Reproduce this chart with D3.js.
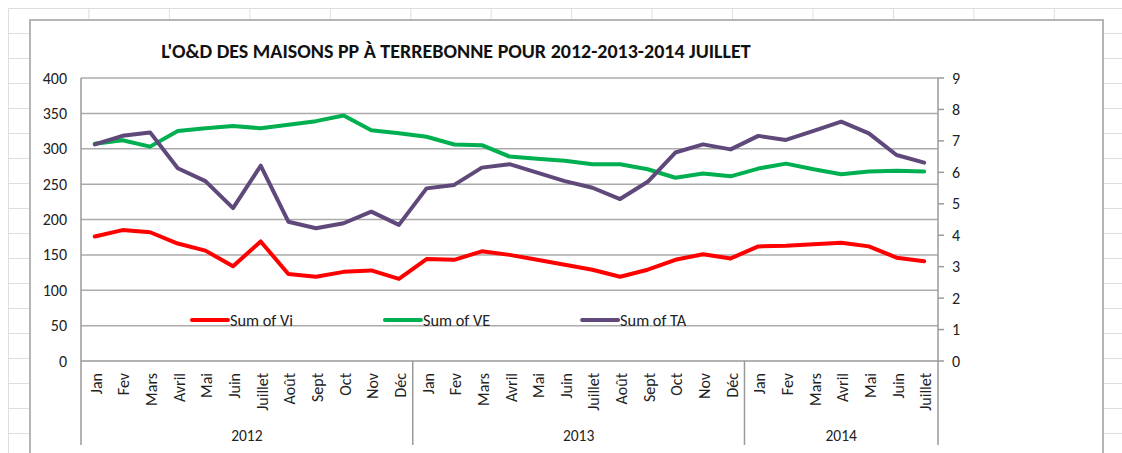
<!doctype html>
<html lang="fr">
<head>
<meta charset="UTF-8">
<title>L'O&D des maisons PP à Terrebonne</title>
<script src="https://d3js.org/d3.v7.min.js"></script>
<style>
    html, body { margin: 0; padding: 0; background: #fff; }
    svg { display: block; font-family: Calibri, Carlito, Lato, sans-serif; }
    .tick_text { font-size: 16px; fill: #222; }
    .month_text { font-size: 16px; fill: #222; }
    .legend_text { font-size: 16.3px; fill: #222; }
    .year_text { font-size: 15.5px; fill: #222; }
    .gridline { stroke: #ababab; stroke-width: 1.5; }
    .axisline { stroke: #9a9a9a; stroke-width: 1.5; fill: none; }
    .sheetline { stroke: #dedede; stroke-width: 1; }
    .series { fill: none; stroke-width: 4; stroke-linejoin: round; stroke-linecap: round; }
</style>
</head>
<body>
<svg id="cvas" width="1122" height="453"></svg>
<script>
    // ---- data ---- //
    const title = "L'O&D DES MAISONS PP À TERREBONNE POUR 2012-2013-2014 JUILLET";
    const month_names = ["Jan", "Fev", "Mars", "Avril", "Mai", "Juin", "Juillet", "Août", "Sept", "Oct", "Nov", "Déc"];
    const years = ["2012", "2013", "2014"];
    const months_per_year = [12, 12, 7];

    // Sum of Vi (left axis)
    const vi = [176, 185, 182, 166, 156, 134, 169, 123, 119, 126, 128, 116,
                144, 143, 155, 150, 143, 136, 129, 119, 129, 143, 151, 145,
                162, 163, 165, 167, 162, 146, 141];
    // Sum of VE (left axis)
    const ve = [307, 312, 303, 325, 329, 332, 329, 334, 339, 347, 326, 322,
                317, 306, 305, 289, 286, 283, 278, 278, 271, 259, 265, 261,
                272, 279, 271, 264, 268, 269, 268];
    // Sum of TA (right axis)
    const ta = [6.89, 7.16, 7.27, 6.13, 5.72, 4.86, 6.21, 4.43, 4.22, 4.38, 4.75, 4.33,
                5.49, 5.60, 6.15, 6.26, 5.99, 5.72, 5.51, 5.15, 5.70, 6.63, 6.89, 6.73,
                7.16, 7.03, 7.32, 7.61, 7.24, 6.55, 6.31];

    const left_ticks = [0, 50, 100, 150, 200, 250, 300, 350, 400];
    const right_ticks = [0, 1, 2, 3, 4, 5, 6, 7, 8, 9];

    const series_names = ["Sum of Vi", "Sum of VE", "Sum of TA"];
    const series_colors = ["#ff0000", "#00b050", "#5f497a"];

    // ---- layout ---- //
    const W = 1122, H = 453;
    const plot = { left: 81, right: 938, top: 78, bottom: 361 };
    const axis_bottom = 445;

    const svg = d3.select("#cvas");

    // build categories: one entry per month
    let categories = [];
    years.forEach((y, yi) => {
        for (let m = 0; m < months_per_year[yi]; m++) {
            categories.push({ month: month_names[m], year: y });
        }
    });

    // spreadsheet background grid
    const sheet = svg.append("g");
    d3.range(8.5, W, 80.45).forEach(x => {
        sheet.append("line").attr("class", "sheetline")
            .attr("x1", x).attr("x2", x).attr("y1", 8.5).attr("y2", H);
    });
    d3.range(8.5, H, 25).forEach(y => {
        sheet.append("line").attr("class", "sheetline")
            .attr("x1", 8.5).attr("x2", W).attr("y1", y).attr("y2", y);
    });

    // chart area
    svg.append("rect")
        .attr("x", 30).attr("y", 20).attr("width", 1073).attr("height", 460)
        .style("fill", "#fff").style("stroke", "#b5b5b5").style("stroke-width", 2);

    // scales
    const x_scale = d3.scaleBand()
        .domain(d3.range(categories.length))
        .range([plot.left, plot.right]);
    const xc = i => x_scale(i) + x_scale.bandwidth() / 2;

    const y_left = d3.scaleLinear().domain([0, 400]).range([plot.bottom, plot.top]);
    const y_right = d3.scaleLinear().domain([0, 9]).range([plot.bottom, plot.top]);

    // horizontal gridlines
    svg.append("g").selectAll("line").data(left_ticks.filter(d => d > 0))
        .enter().append("line").attr("class", "gridline")
        .attr("x1", plot.left).attr("x2", plot.right)
        .attr("y1", d => y_left(d)).attr("y2", d => y_left(d));

    // left axis labels
    svg.append("g").selectAll("text").data(left_ticks)
        .enter().append("text").attr("class", "tick_text")
        .attr("x", 67).attr("y", d => y_left(d)).attr("dy", "0.35em")
        .attr("text-anchor", "end").text(d => d);

    // right axis with outward ticks
    svg.append("line").attr("class", "axisline")
        .attr("x1", plot.right).attr("x2", plot.right)
        .attr("y1", plot.top).attr("y2", axis_bottom);
    svg.append("g").selectAll("line").data(right_ticks)
        .enter().append("line").attr("class", "axisline")
        .attr("x1", plot.right).attr("x2", plot.right + 6)
        .attr("y1", d => y_right(d)).attr("y2", d => y_right(d));
    svg.append("g").selectAll("text").data(right_ticks)
        .enter().append("text").attr("class", "tick_text")
        .attr("x", 952).attr("y", d => y_right(d)).attr("dy", "0.35em")
        .text(d => d);

    // category axis: baseline, left axis, year separators
    svg.append("line").attr("class", "axisline")
        .attr("x1", plot.left).attr("x2", plot.right)
        .attr("y1", plot.bottom).attr("y2", plot.bottom);
    svg.append("line").attr("class", "axisline")
        .attr("x1", plot.left).attr("x2", plot.left)
        .attr("y1", plot.top).attr("y2", axis_bottom);

    let year_start = 0;
    years.forEach((y, yi) => {
        let year_end = year_start + months_per_year[yi];
        let x0 = x_scale(year_start);
        let x1 = year_end < categories.length ? x_scale(year_end) : plot.right;
        if (yi > 0) {
            svg.append("line").attr("class", "axisline")
                .attr("x1", x0).attr("x2", x0)
                .attr("y1", plot.bottom).attr("y2", axis_bottom);
        }
        svg.append("text").attr("class", "year_text")
            .attr("x", (x0 + x1) / 2).attr("y", 441)
            .attr("text-anchor", "middle").text(y);
        year_start = year_end;
    });

    // month labels (rotated)
    svg.append("g").selectAll("text").data(categories)
        .enter().append("text").attr("class", "month_text")
        .attr("transform", (d, i) => `translate(${xc(i) + 7},373) rotate(-90)`)
        .attr("text-anchor", "end").text(d => d.month);

    // series lines
    const line_left = d3.line().x((d, i) => xc(i)).y(d => y_left(d));
    const line_right = d3.line().x((d, i) => xc(i)).y(d => y_right(d));

    svg.append("path").attr("class", "series").attr("d", line_left(vi)).style("stroke", series_colors[0]);
    svg.append("path").attr("class", "series").attr("d", line_left(ve)).style("stroke", series_colors[1]);
    svg.append("path").attr("class", "series").attr("d", line_right(ta)).style("stroke", series_colors[2]);

    // legend
    let legend_x = 192;
    const legend_y = 320;
    series_names.forEach((name, si) => {
        svg.append("line")
            .attr("x1", legend_x).attr("x2", legend_x + 36)
            .attr("y1", legend_y).attr("y2", legend_y)
            .style("stroke", series_colors[si]).style("stroke-width", 4)
            .style("stroke-linecap", "round");
        let t = svg.append("text").attr("class", "legend_text")
            .attr("x", legend_x + 38).attr("y", legend_y).attr("dy", "0.35em")
            .text(name);
        legend_x += 38 + t.node().getComputedTextLength() + 92;
    });

    // title
    svg.append("text")
        .attr("x", 456).attr("y", 58)
        .attr("text-anchor", "middle")
        .style("font-size", "20px").style("font-weight", "bold").style("fill", "#111")
        .text(title);
</script>
</body>
</html>
